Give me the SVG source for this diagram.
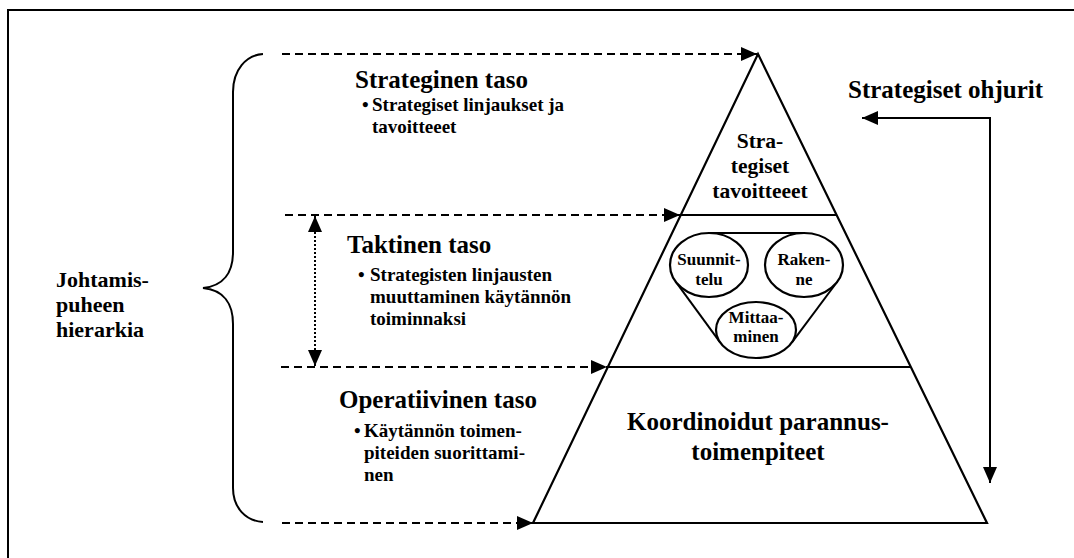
<svg xmlns="http://www.w3.org/2000/svg" width="1074" height="558" viewBox="0 0 1074 558">
  <style>
    .t { font-family: "Liberation Serif", "Times New Roman", serif; font-weight: bold; fill: #000; }
    .title { font-size: 25px; }
    .bul { font-size: 19px; }
    .mid { text-anchor: middle; }
    .line { fill: none; stroke: #000; stroke-width: 2; }
    .dash { fill: none; stroke: #000; stroke-width: 2; stroke-dasharray: 8 5; }
    .dot { fill: none; stroke: #000; stroke-width: 2; stroke-dasharray: 2 2; }
    .shape { fill: #fff; stroke: #000; stroke-width: 2.2; }
  </style>
  <defs>
    <marker id="arr" viewBox="0 0 16 14" refX="16" refY="7" markerWidth="16" markerHeight="14" markerUnits="userSpaceOnUse" orient="auto-start-reverse">
      <path d="M0,0 L16,7 L0,14 Z" fill="#000"/>
    </marker>
    <marker id="arrs" viewBox="0 0 16 14" refX="16" refY="7" markerWidth="16" markerHeight="14" markerUnits="userSpaceOnUse" orient="auto-start-reverse">
      <path d="M0,0 L16,7 L0,14 Z" fill="#000"/>
    </marker>
  </defs>

  <rect width="1074" height="558" fill="#fff"/>
  <!-- outer frame (right and bottom edges run past the canvas) -->
  <rect x="8" y="10" width="1090" height="570" fill="none" stroke="#000" stroke-width="2"/>

  <!-- pyramid -->
  <g id="pyramid">
    <path class="shape" d="M758,54 L987,523 L533,523 Z" stroke-linejoin="miter"/>
    <line x1="680" y1="215" x2="837" y2="215" stroke="#000" stroke-width="2.2"/>
    <line x1="607" y1="367" x2="910" y2="367" stroke="#000" stroke-width="2.2"/>
  </g>

  <g id="strategic-goals">
    <text class="t mid" font-size="21.5" x="760" y="148">Stra-</text>
    <text class="t mid" font-size="21.5" x="760" y="173">tegiset</text>
    <text class="t mid" font-size="21.5" x="760" y="198">tavoitteeet</text>
  </g>

  <!-- hull round the three tactical circles -->
  <g id="tactical-hull">
    <line class="line" x1="709" y1="233" x2="804" y2="233"/>
    <line class="line" x1="675.5" y1="281.4" x2="720.3" y2="342.7"/>
    <line class="line" x1="837.4" y1="281.5" x2="791.8" y2="342.6"/>
  </g>
  <g id="suunnittelu">
    <ellipse class="shape" cx="709" cy="265" rx="39" ry="32"/>
    <text class="t mid" font-size="17" x="709" y="265">Suunnit-</text>
    <text class="t mid" font-size="17" x="709" y="285">telu</text>
  </g>
  <g id="rakenne">
    <ellipse class="shape" cx="804" cy="265" rx="39" ry="32"/>
    <text class="t mid" font-size="17" x="804" y="265">Raken-</text>
    <text class="t mid" font-size="17" x="804" y="285">ne</text>
  </g>
  <g id="mittaaminen">
    <ellipse class="shape" cx="756" cy="330" rx="40" ry="28"/>
    <text class="t mid" font-size="17" x="756" y="323">Mittaa-</text>
    <text class="t mid" font-size="17" x="756" y="342">minen</text>
  </g>

  <g id="coordinated-actions">
    <text class="t title mid" x="758" y="430">Koordinoidut parannus-</text>
    <text class="t title mid" x="758" y="460">toimenpiteet</text>
  </g>

  <!-- level descriptions -->
  <g id="strategic-level">
    <text class="t title" x="355" y="88">Strateginen taso</text>
    <text class="t bul" y="111"><tspan x="362">•</tspan><tspan x="372">Strategiset linjaukset ja</tspan></text>
    <text class="t bul" x="372" y="133">tavoitteeet</text>
  </g>
  <g id="tactical-level">
    <text class="t title" x="347" y="253">Taktinen taso</text>
    <text class="t bul" y="281"><tspan x="358">•</tspan><tspan x="370">Strategisten linjausten</tspan></text>
    <text class="t bul" x="370" y="303">muuttaminen käytännön</text>
    <text class="t bul" x="370" y="325">toiminnaksi</text>
  </g>
  <g id="operative-level">
    <text class="t title" x="339" y="408">Operatiivinen taso</text>
    <text class="t bul" y="437"><tspan x="354">•</tspan><tspan x="364">Käytännön toimen-</tspan></text>
    <text class="t bul" x="364" y="459">piteiden suorittami-</text>
    <text class="t bul" x="364" y="481">nen</text>
  </g>

  <g id="hierarchy">
    <path class="line" d="M263,54 C246,55 233,70 233,92 L233,252 C233,272 224,286 203,288 C224,290 233,304 233,324 L233,488 C233,508 246,521 263,522"/>
    <text class="t" font-size="22" x="56" y="287">Johtamis-</text>
    <text class="t" font-size="22" x="56" y="312">puheen</text>
    <text class="t" font-size="22" x="56" y="337">hierarkia</text>
  </g>

  <g id="drivers">
    <text class="t title" x="848" y="98">Strategiset ohjurit</text>
  </g>

  <g id="connectors">
    <line class="dash" x1="282" y1="54" x2="757" y2="54" marker-end="url(#arr)"/>
    <line class="dash" x1="285" y1="215" x2="680" y2="215" marker-end="url(#arr)"/>
    <line class="dash" x1="281" y1="367" x2="607" y2="367" marker-end="url(#arr)"/>
    <line class="dash" x1="282" y1="523" x2="533" y2="523" marker-end="url(#arr)"/>
    <line class="dot" x1="315" y1="216" x2="315" y2="366" marker-start="url(#arrs)" marker-end="url(#arrs)"/>
    <path class="line" d="M862,118 H990 V483" marker-start="url(#arr)" marker-end="url(#arr)"/>
  </g>
</svg>
